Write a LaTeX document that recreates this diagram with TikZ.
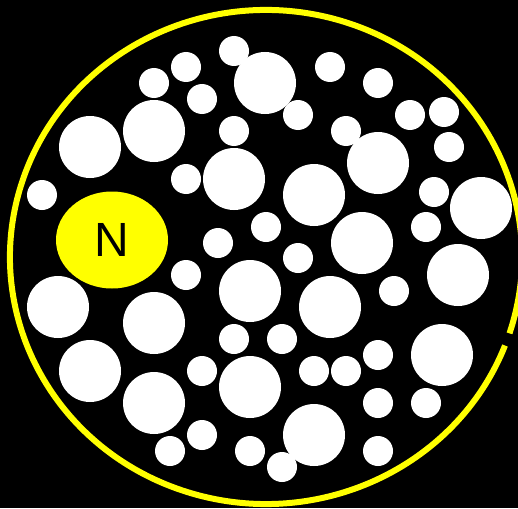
\documentclass[tikz,border=0pt]{standalone}
\usepackage{fontspec}
\setmainfont{Liberation Sans}
\usetikzlibrary{shapes.geometric}
\definecolor{ringyellow}{RGB}{255,255,0}
\tikzset{
  bigdot/.style={fill=white},
  smalldot/.style={fill=white},
  ring/.style={draw=ringyellow, line width=6pt},
  nucleus/.style={ellipse, fill=ringyellow, minimum width=112pt, minimum height=97pt, inner sep=0pt,
    font=\fontsize{48}{48}\selectfont, text=black}
}
\begin{document}
\begin{tikzpicture}[x=1pt,y=-1pt]
\fill[black] (0,0) rectangle (518,508);
\useasboundingbox (0,0) rectangle (518,508);
\clip (0,0) rectangle (518,508);
% big circles
\foreach \p in {(90,147),(154,131),(265,83),(234,179),(314,195),(378,163),(362,243),(481,208),(458,275),
  (58,307),(154,323),(250,291),(330,307),(90,371),(154,403),(250,387),(314,435),(442,355)}
  \fill[bigdot] \p circle[radius=31pt];
% small circles
\foreach \p in {(154,83),(186,67),(202,99),(234,51),(234,131),(186,179),(42,195),(218,243),(266,227),
  (330,67),(378,83),(298,115),(346,131),(410,115),(444,112),(449,147),(434,192),(426,227),
  (298,258),(186,275),(394,291),(234,339),(282,339),(202,371),(314,371),(346,371),(378,355),
  (202,435),(170,451),(250,451),(282,467),(378,403),(426,403),(378,451)}
  \fill[smalldot] \p circle[radius=15pt];
% nucleus
\node[nucleus] (n) at (112,240) {N};
% outer ring with a small gap on the right
\coordinate (ringc) at (266,257);
\draw[ring] ([shift={(-18:256pt and 247pt)}]ringc) arc[start angle=-18, end angle=339, x radius=256pt, y radius=247pt];
\end{tikzpicture}
\end{document}
